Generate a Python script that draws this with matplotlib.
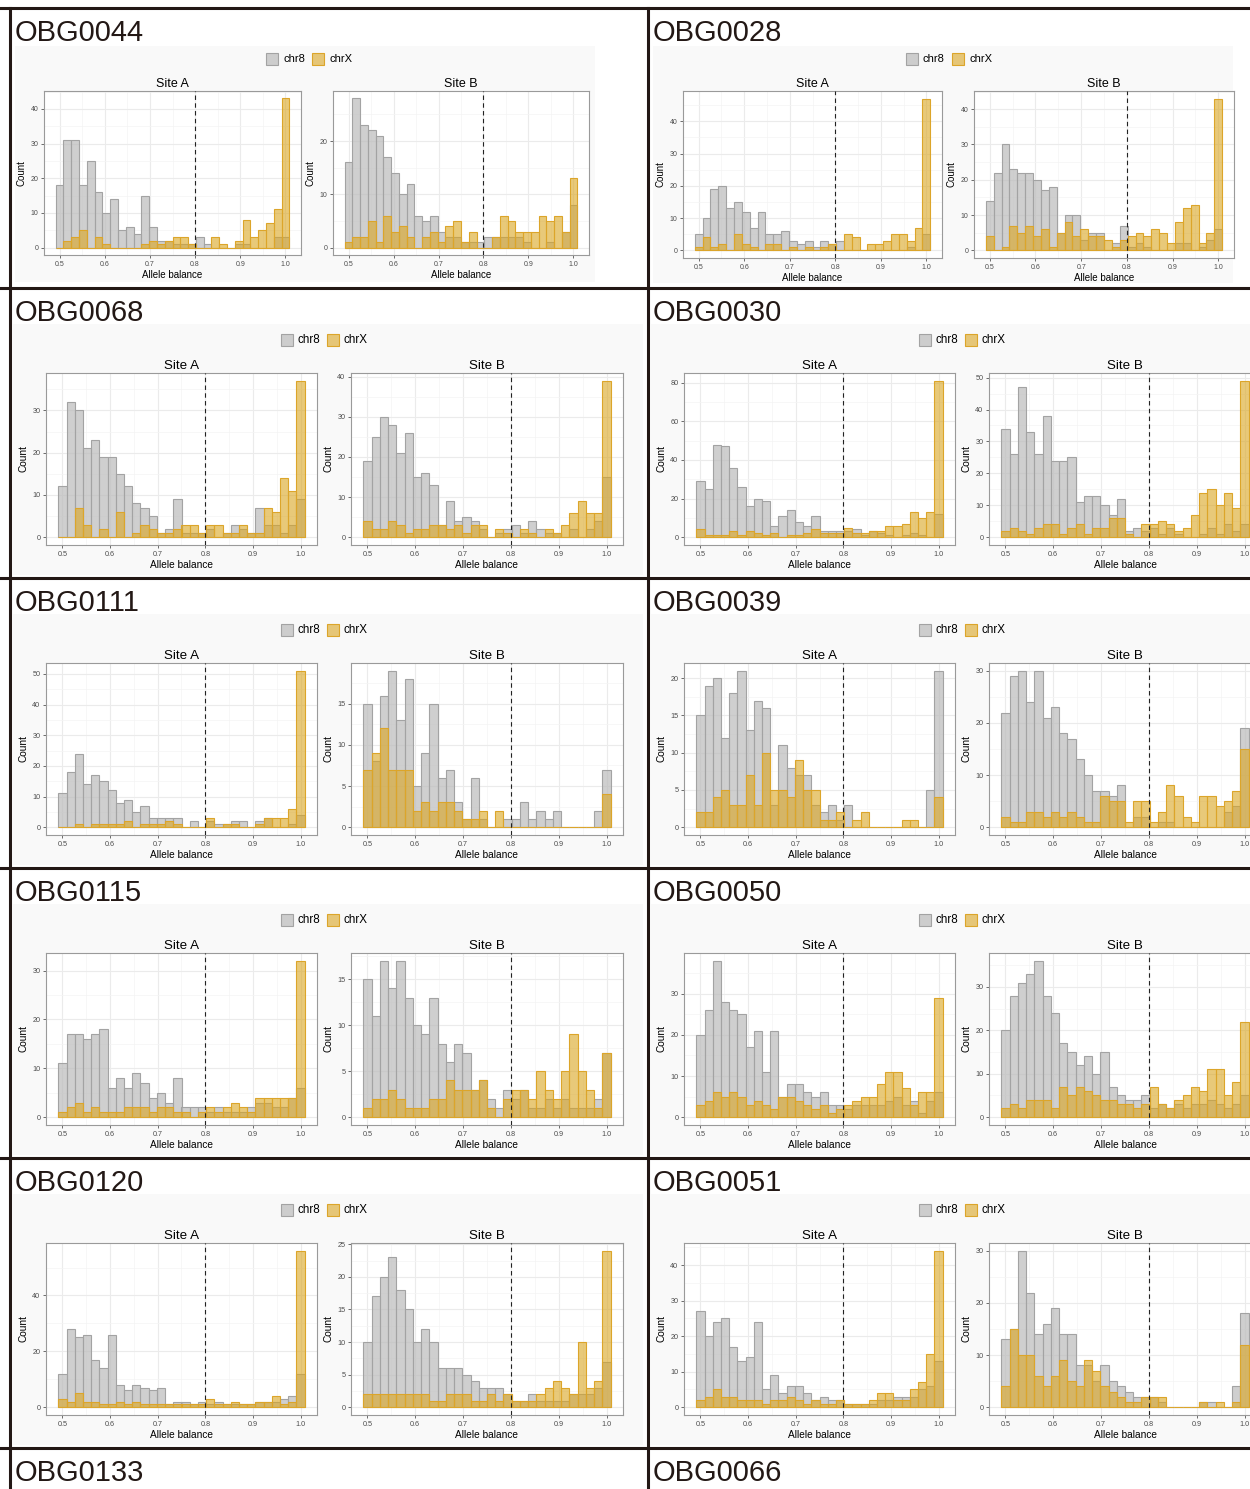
import numpy as np
import matplotlib
matplotlib.use('Agg')
import matplotlib.pyplot as plt
from matplotlib.patches import Rectangle
from matplotlib.ticker import MultipleLocator

# ---- per-sample histogram counts (30 bins, 0.5 .. 1.0) ----
obg0044_a_chr8 = [18, 31, 31, 18, 25, 16, 10, 14, 5, 6, 4, 15, 6, 2, 2, 1, 1, 1, 3, 1, 0, 0, 0, 1, 1, 0, 0, 0, 3, 3]
obg0044_a_chrX = [0, 2, 3, 5, 0, 3, 1, 0, 0, 0, 0, 1, 2, 1, 2, 3, 3, 1, 0, 0, 3, 1, 0, 2, 8, 3, 5, 7, 11, 43]
obg0044_b_chr8 = [16, 28, 23, 22, 21, 17, 14, 10, 12, 6, 5, 6, 3, 2, 2, 1, 1, 1, 2, 2, 2, 2, 2, 1, 0, 0, 1, 0, 3, 8]
obg0044_b_chrX = [1, 2, 2, 5, 1, 6, 3, 4, 2, 0, 2, 3, 1, 4, 5, 1, 3, 0, 0, 2, 6, 5, 3, 3, 3, 6, 5, 6, 3, 13]

obg0028_a_chr8 = [5, 10, 19, 20, 13, 15, 12, 7, 12, 5, 5, 6, 3, 2, 3, 1, 3, 2, 3, 0, 0, 0, 0, 0, 0, 0, 0, 1, 0, 5]
obg0028_a_chrX = [1, 4, 1, 2, 0, 5, 2, 1, 0, 2, 2, 0, 1, 0, 1, 0, 1, 2, 0, 5, 4, 0, 2, 2, 3, 5, 5, 3, 7, 47]
obg0028_b_chr8 = [14, 22, 30, 23, 22, 22, 20, 17, 18, 5, 10, 10, 3, 5, 5, 0, 2, 7, 1, 2, 1, 0, 0, 0, 2, 2, 0, 1, 3, 6]
obg0028_b_chrX = [4, 0, 1, 7, 5, 7, 4, 6, 1, 5, 8, 4, 6, 4, 4, 3, 1, 3, 4, 5, 4, 6, 5, 2, 8, 12, 13, 2, 5, 43]

obg0068_a_chr8 = [12, 32, 30, 21, 23, 19, 19, 15, 12, 8, 7, 5, 1, 2, 9, 1, 1, 1, 2, 0, 1, 3, 2, 1, 7, 3, 3, 1, 3, 9]
obg0068_a_chrX = [0, 0, 7, 3, 0, 2, 0, 6, 0, 1, 3, 2, 1, 1, 2, 3, 3, 1, 3, 3, 1, 1, 3, 1, 1, 7, 6, 14, 11, 37]
obg0068_b_chr8 = [19, 25, 30, 28, 21, 26, 15, 16, 13, 3, 9, 4, 5, 4, 2, 0, 1, 2, 3, 1, 4, 2, 1, 1, 0, 2, 0, 2, 4, 15]
obg0068_b_chrX = [4, 2, 2, 4, 3, 1, 2, 2, 3, 3, 2, 3, 1, 3, 3, 0, 2, 1, 0, 2, 1, 0, 2, 1, 3, 6, 9, 6, 6, 39]

obg0030_a_chr8 = [29, 25, 48, 47, 36, 26, 16, 20, 19, 6, 11, 14, 8, 6, 11, 3, 3, 3, 3, 4, 1, 3, 2, 1, 0, 1, 2, 1, 0, 12]
obg0030_a_chrX = [4, 1, 1, 1, 3, 1, 3, 2, 1, 2, 0, 1, 1, 2, 4, 2, 2, 2, 5, 2, 2, 3, 3, 6, 6, 7, 13, 10, 13, 81]
obg0030_b_chr8 = [34, 26, 47, 33, 26, 38, 24, 24, 25, 11, 13, 13, 10, 7, 12, 2, 3, 2, 3, 1, 3, 1, 0, 0, 1, 3, 1, 4, 2, 4]
obg0030_b_chrX = [2, 3, 2, 1, 3, 4, 4, 1, 3, 4, 1, 3, 3, 6, 6, 1, 0, 4, 4, 5, 4, 2, 3, 7, 14, 15, 10, 14, 9, 49]

obg0111_a_chr8 = [11, 18, 24, 14, 17, 15, 12, 8, 9, 5, 7, 3, 3, 3, 3, 0, 2, 0, 2, 1, 1, 2, 2, 0, 2, 3, 0, 0, 1, 4]
obg0111_a_chrX = [0, 0, 1, 0, 1, 1, 1, 1, 2, 0, 1, 1, 1, 2, 1, 0, 0, 0, 3, 0, 1, 1, 0, 0, 1, 3, 3, 3, 6, 51]
obg0111_b_chr8 = [15, 8, 16, 19, 13, 18, 5, 9, 15, 6, 7, 3, 1, 6, 1, 0, 0, 1, 1, 3, 1, 2, 1, 2, 0, 0, 0, 0, 2, 7]
obg0111_b_chrX = [7, 9, 12, 7, 7, 7, 2, 3, 2, 3, 3, 2, 1, 1, 2, 0, 2, 0, 0, 0, 0, 0, 0, 0, 0, 0, 0, 0, 0, 4]

obg0039_a_chr8 = [15, 19, 20, 12, 18, 21, 13, 17, 16, 3, 11, 8, 7, 7, 3, 2, 3, 1, 3, 0, 0, 0, 0, 0, 0, 0, 0, 0, 5, 21]
obg0039_a_chrX = [2, 2, 4, 5, 3, 3, 7, 3, 10, 5, 5, 4, 9, 5, 5, 1, 1, 2, 0, 1, 2, 0, 0, 0, 0, 1, 1, 0, 0, 4]
obg0039_b_chr8 = [22, 29, 30, 24, 30, 21, 23, 18, 17, 13, 10, 7, 7, 6, 8, 0, 2, 2, 0, 1, 1, 0, 0, 0, 0, 0, 0, 3, 4, 19]
obg0039_b_chrX = [2, 1, 1, 3, 3, 2, 3, 2, 3, 2, 1, 1, 6, 5, 5, 1, 5, 5, 1, 3, 8, 6, 2, 1, 6, 6, 4, 5, 7, 15]

obg0115_a_chr8 = [11, 17, 17, 16, 17, 18, 6, 8, 6, 9, 7, 4, 5, 3, 8, 2, 2, 2, 1, 2, 1, 1, 1, 2, 3, 3, 2, 2, 4, 6]
obg0115_a_chrX = [1, 2, 3, 1, 2, 1, 1, 1, 2, 2, 2, 1, 2, 2, 1, 1, 0, 1, 2, 1, 2, 3, 2, 1, 4, 4, 4, 4, 4, 32]
obg0115_b_chr8 = [15, 11, 17, 14, 17, 13, 10, 9, 13, 8, 6, 8, 7, 3, 4, 2, 1, 3, 2, 3, 1, 1, 2, 1, 2, 1, 1, 1, 2, 7]
obg0115_b_chrX = [1, 2, 2, 3, 2, 1, 1, 1, 2, 2, 4, 3, 3, 3, 4, 1, 0, 2, 3, 3, 2, 5, 3, 2, 5, 9, 5, 3, 1, 7]

obg0050_a_chr8 = [20, 26, 38, 28, 26, 25, 17, 21, 11, 21, 5, 8, 8, 6, 5, 6, 3, 3, 2, 3, 3, 3, 3, 4, 5, 3, 4, 1, 4, 6]
obg0050_a_chrX = [3, 4, 6, 5, 6, 5, 3, 4, 3, 2, 5, 5, 4, 3, 2, 3, 1, 2, 3, 4, 5, 5, 8, 11, 11, 7, 3, 6, 6, 29]
obg0050_b_chr8 = [20, 28, 31, 33, 36, 28, 24, 17, 15, 12, 14, 10, 15, 7, 5, 4, 4, 5, 2, 3, 2, 3, 2, 3, 3, 4, 3, 2, 3, 5]
obg0050_b_chrX = [2, 3, 2, 4, 4, 4, 2, 7, 5, 7, 6, 5, 4, 4, 3, 3, 2, 3, 7, 3, 2, 4, 5, 7, 6, 11, 11, 5, 8, 22]

obg0120_a_chr8 = [12, 28, 25, 26, 17, 14, 26, 8, 6, 8, 7, 6, 7, 1, 2, 2, 1, 2, 1, 2, 1, 1, 1, 1, 2, 2, 2, 3, 4, 12]
obg0120_a_chrX = [3, 2, 5, 2, 2, 1, 1, 2, 1, 2, 1, 1, 1, 1, 1, 1, 1, 1, 3, 1, 1, 2, 1, 1, 2, 2, 4, 1, 2, 56]
obg0120_b_chr8 = [10, 17, 20, 23, 18, 15, 10, 12, 10, 6, 6, 6, 5, 4, 3, 3, 3, 2, 1, 1, 2, 1, 1, 1, 1, 2, 2, 2, 3, 7]
obg0120_b_chrX = [2, 2, 2, 2, 2, 2, 2, 2, 1, 1, 2, 2, 2, 1, 1, 2, 1, 2, 1, 1, 1, 2, 3, 4, 3, 2, 10, 3, 4, 24]

obg0051_a_chr8 = [27, 20, 24, 25, 17, 13, 14, 24, 5, 9, 4, 6, 6, 4, 2, 3, 2, 2, 1, 1, 1, 1, 2, 2, 3, 3, 3, 5, 6, 13]
obg0051_a_chrX = [2, 3, 5, 3, 3, 2, 2, 2, 1, 2, 2, 3, 2, 1, 2, 1, 1, 2, 1, 1, 1, 2, 4, 4, 2, 2, 5, 7, 15, 44]
obg0051_b_chr8 = [13, 15, 30, 22, 14, 16, 19, 14, 14, 8, 8, 5, 8, 5, 4, 3, 2, 2, 2, 1, 0, 0, 0, 0, 1, 1, 0, 0, 4, 18]
obg0051_b_chrX = [4, 15, 10, 10, 6, 4, 6, 9, 5, 4, 9, 7, 4, 3, 2, 1, 1, 2, 2, 2, 0, 0, 0, 0, 1, 0, 1, 0, 1, 12]

left_samples = ['OBG0044', 'OBG0068', 'OBG0111', 'OBG0115', 'OBG0120', 'OBG0133']
right_samples = ['OBG0028', 'OBG0030', 'OBG0039', 'OBG0050', 'OBG0051', 'OBG0066']

counts = {
    'OBG0044': (obg0044_a_chr8, obg0044_a_chrX, obg0044_b_chr8, obg0044_b_chrX),
    'OBG0028': (obg0028_a_chr8, obg0028_a_chrX, obg0028_b_chr8, obg0028_b_chrX),
    'OBG0068': (obg0068_a_chr8, obg0068_a_chrX, obg0068_b_chr8, obg0068_b_chrX),
    'OBG0030': (obg0030_a_chr8, obg0030_a_chrX, obg0030_b_chr8, obg0030_b_chrX),
    'OBG0111': (obg0111_a_chr8, obg0111_a_chrX, obg0111_b_chr8, obg0111_b_chrX),
    'OBG0039': (obg0039_a_chr8, obg0039_a_chrX, obg0039_b_chr8, obg0039_b_chrX),
    'OBG0115': (obg0115_a_chr8, obg0115_a_chrX, obg0115_b_chr8, obg0115_b_chrX),
    'OBG0050': (obg0050_a_chr8, obg0050_a_chrX, obg0050_b_chr8, obg0050_b_chrX),
    'OBG0120': (obg0120_a_chr8, obg0120_a_chrX, obg0120_b_chr8, obg0120_b_chrX),
    'OBG0051': (obg0051_a_chr8, obg0051_a_chrX, obg0051_b_chr8, obg0051_b_chrX),
}

W, H = 1250, 1489
N_BINS = 30
bin_w = 0.5 / (N_BINS - 1)
centers = 0.5 + bin_w * np.arange(N_BINS)
x_lo = 0.5 - bin_w / 2 - 0.05 * (0.5 + bin_w)
x_hi = 1.0 + bin_w / 2 + 0.05 * (0.5 + bin_w)

GREY_FILL = (0.74, 0.74, 0.74, 0.72)
GREY_EDGE = '#a3a3a3'
GOLD_FILL = (0.855, 0.647, 0.125, 0.6)
GOLD_EDGE = '#dca52a'
PANEL_BG = '#f9f9f9'
BORDER = '#231815'
SANS = ['Liberation Sans', 'DejaVu Sans']

fig = plt.figure(figsize=(W / 100, H / 100), dpi=100)
fig.patch.set_facecolor('white')


def fx(x):
    return x / W


def fy(y):
    return 1 - y / H


def px_axes(x0, y0, x1, y1, **kw):
    return fig.add_axes([fx(x0), fy(y1), (x1 - x0) / W, (y1 - y0) / H], **kw)


def y_step(top):
    best = None
    for step in (5, 10, 20):
        n = round(top / step) + 1
        score = abs(n - 5)
        if best is None or score < best[0]:
            best = (score, step)
    return best[1]


def draw_hist(ax, chr8, chrx, fs):
    top = max(max(chr8), max(chrx))
    ax.set_xlim(x_lo, x_hi)
    ax.set_ylim(-0.05 * top, 1.05 * top)
    step = y_step(top)
    ax.xaxis.set_major_locator(MultipleLocator(0.1))
    ax.xaxis.set_minor_locator(MultipleLocator(0.05))
    ax.yaxis.set_major_locator(MultipleLocator(step))
    ax.yaxis.set_minor_locator(MultipleLocator(step / 2))
    ax.grid(which='major', color='#ebebeb', lw=0.8, zorder=0)
    ax.grid(which='minor', color='#f4f4f4', lw=0.5, zorder=0)
    ax.set_axisbelow(True)
    ax.bar(centers, chr8, width=bin_w, color=GREY_FILL, edgecolor=GREY_EDGE,
           linewidth=0.8, zorder=2)
    ax.bar(centers, chrx, width=bin_w, color=GOLD_FILL, edgecolor=GOLD_EDGE,
           linewidth=0.8, zorder=3)
    ax.axvline(0.8, color='#222222', ls=(0, (4, 3)), lw=0.8, zorder=4)
    ax.set_xticks(np.arange(0.5, 1.01, 0.1))
    ax.set_xticklabels(['0.5', '0.6', '0.7', '0.8', '0.9', '1.0'])
    ax.tick_params(which='major', length=2.5, width=0.6, color='#555555',
                   labelsize=fs * 0.72, labelcolor='#4d4d4d', pad=1.5)
    ax.tick_params(which='minor', length=0)
    for lab in ax.get_xticklabels() + ax.get_yticklabels():
        lab.set_family(SANS)
    for s in ax.spines.values():
        s.set_color('#9a9a9a')
        s.set_linewidth(0.8)
    ax.set_xlabel('Allele balance', fontsize=fs, family=SANS, labelpad=2)
    ax.set_ylabel('Count', fontsize=fs, family=SANS, labelpad=3)


def draw_cell(name, top, left, small, right_col):
    fig.text(fx(left + 5), fy(top + 25), name, fontsize=21, family=SANS,
             color='#231815', va='center', ha='left')
    if name not in counts:
        return
    a8, ax_, b8, bx = counts[name]
    if small and right_col:
        bg = (left + 5, top + 38, left + 585, top + 275)
        pa = (left + 35, top + 83, left + 294, top + 250)
        pb = (left + 326, top + 83, left + 586, top + 250)
        leg_y = top + 51
        leg_x = left + 258
        fs, tfs = 7.0, 9.0
    elif small:
        # first row: narrower embedded figure
        bg = (left + 5, top + 38, left + 585, top + 274)
        pa = (left + 34, top + 83, left + 291, top + 247)
        pb = (left + 323, top + 83, left + 579, top + 247)
        leg_y = top + 51
        leg_x = left + 256
        fs, tfs = 7.0, 9.0
    else:
        bg = (left + 3, top + 36, left + 633, top + 287)
        pa = (left + 36, top + 85, left + 307, top + 257)
        pb = (left + 341, top + 85, left + 613, top + 257)
        leg_y = top + 52
        leg_x = left + 271
        fs, tfs = 7.3, 9.6
    fig.patches.append(Rectangle((fx(bg[0]), fy(bg[3])), (bg[2] - bg[0]) / W,
                                 (bg[3] - bg[1]) / H, transform=fig.transFigure,
                                 facecolor=PANEL_BG, edgecolor='none', zorder=-1))
    # legend keys
    for dx, fc, ec, lab in ((0, GREY_FILL, GREY_EDGE, 'chr8'),
                            (46, GOLD_FILL, GOLD_EDGE, 'chrX')):
        fig.patches.append(Rectangle((fx(leg_x + dx), fy(leg_y + 6)), 12 / W, 12 / H,
                                     transform=fig.transFigure, facecolor=fc,
                                     edgecolor=ec, lw=0.8, zorder=2))
        fig.text(fx(leg_x + dx + 17), fy(leg_y), lab, fontsize=fs * 1.15,
                 family=SANS, va='center', ha='left')
    for box, title, c8, cx in ((pa, 'Site A', a8, ax_), (pb, 'Site B', b8, bx)):
        ax = px_axes(*box)
        draw_hist(ax, c8, cx, fs)
        ax.set_title(title, fontsize=tfs, family=SANS, pad=3)


row_tops = [8, 288, 578, 868, 1158, 1448]
for i, top in enumerate(row_tops):
    draw_cell(left_samples[i], top, 10, i == 0, False)
    draw_cell(right_samples[i], top, 648, i == 0, True)

# table rules
for y in row_tops:
    fig.add_artist(plt.Line2D([0, 1], [fy(y), fy(y)], color=BORDER, lw=2.2,
                              transform=fig.transFigure, zorder=10))
for x in (10, 647.5):
    fig.add_artist(plt.Line2D([fx(x), fx(x)], [fy(8), 0], color=BORDER, lw=2.2,
                              transform=fig.transFigure, zorder=10))

fig.savefig('out.png', dpi=100, facecolor='white')
